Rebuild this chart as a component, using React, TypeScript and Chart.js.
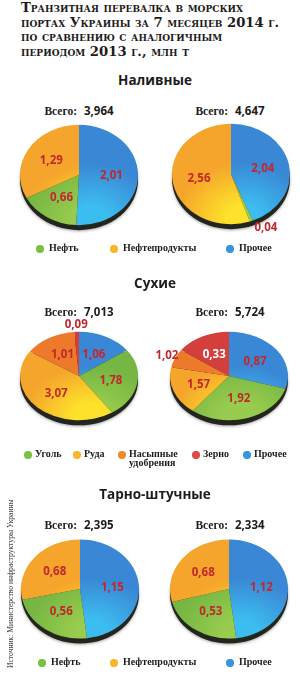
import React, { useEffect, useRef } from 'react';
import { Chart, registerables } from 'chart.js';

Chart.register(...registerables);

// ---------- data ----------
const titleLines = [
  'Транзитная перевалка в морских',
  'портах Украины за 7 месяцев 2014 г.',
  'по сравнению с аналогичным',
  'периодом 2013 г., млн т',
];
const sourceNote = 'Источник: Министерство инфраструктуры Украины';
const sectionTitles = ['Наливные', 'Сухие', 'Тарно-штучные'];
const totalWord = 'Всего:';

const liquidLegend = ['Нефть', 'Нефтепродукты', 'Прочее'];
const liquidSlices = ['Прочее', 'Нефть', 'Нефтепродукты']; // clockwise from 12 o'clock
const liquid2013 = [2.01, 0.66, 1.29];
const liquid2014 = [2.04, 0.04, 2.56];
const liquidTotals = ['3,964', '4,647'];

const dryLegend = ['Уголь', 'Руда', 'Насыпные удобрения', 'Зерно', 'Прочее'];
const drySlices = ['Прочее', 'Уголь', 'Руда', 'Насыпные удобрения', 'Зерно'];
const dry2013 = [1.06, 1.78, 3.07, 1.01, 0.09];
const dry2014 = [0.87, 1.92, 1.57, 1.02, 0.33];
// slice sizes as they are drawn in the reference's second "dry" pie (its printed values differ)
const dry2014Drawn = [1.7, 1.77, 1.01, 0.39, 0.86];
const dryTotals = ['7,013', '5,724'];

const packLegend = ['Нефть', 'Нефтепродукты', 'Прочее'];
const packSlices = ['Прочее', 'Нефть', 'Нефтепродукты'];
const pack2013 = [1.15, 0.56, 0.68];
const pack2014 = [1.12, 0.53, 0.68];
const packTotals = ['2,395', '2,334'];

// ---------- styles ----------
const GREEN: [string, string] = ['#76b643', '#98cc4e'];
const YELLOW: [string, string] = ['#f5a52b', '#fde12b'];
const BLUE: [string, string] = ['#3a88d5', '#3cbdf0'];
const ORANGE: [string, string] = ['#ec7a2a', '#f4953a'];
const RED: [string, string] = ['#d23f3c', '#e35a53'];
const PALETTE: Record<string, [string, string]> = {
  'Прочее': BLUE,
  'Нефть': GREEN,
  'Уголь': GREEN,
  'Нефтепродукты': YELLOW,
  'Руда': YELLOW,
  'Насыпные удобрения': ORANGE,
  'Зерно': RED,
};
const LEGEND_DOT: Record<string, string> = {
  'Прочее': '#3a94dc',
  'Нефть': '#7cbf45',
  'Уголь': '#7cbf45',
  'Нефтепродукты': '#fbb52b',
  'Руда': '#fbb52b',
  'Насыпные удобрения': '#f08a2e',
  'Зерно': '#dc4a45',
};
const INK = '#1d1b1b';
const LABEL_RED = '#c1272d';
const SERIF = '"Liberation Serif", "DejaVu Serif", serif';
const SANS = '"Open Sans", "Noto Sans", sans-serif';

const CW = 170;
const CH = 150;
const R = 59;

type PieProps = {
  cx: number;
  cy: number;
  k: number;
  slices: string[];
  sizes: number[];
  values: number[];
};

function Pie({ cx, cy, k, slices, sizes, values }: PieProps) {
  const ref = useRef<HTMLCanvasElement | null>(null);
  useEffect(() => {
    const canvas = ref.current;
    if (!canvas) return;
    const depth = 5;
    const tilt = {
      id: 'tilt3d',
      beforeDatasetsDraw(chart: any) {
        const arc = chart.getDatasetMeta(0).data[0] as any;
        const { x, y, outerRadius: r } = arc;
        const ctx = chart.ctx as CanvasRenderingContext2D;
        ctx.save();
        ctx.save();
        ctx.shadowColor = 'rgba(0,0,0,0.35)';
        ctx.shadowBlur = 3;
        ctx.shadowOffsetY = 1;
        ctx.fillStyle = '#23261c';
        ctx.beginPath();
        ctx.ellipse(x, y + depth, r, r * k, 0, 0, Math.PI * 2);
        ctx.fill();
        ctx.restore();
        ctx.translate(x, y);
        ctx.scale(1, k);
        ctx.translate(-x, -y);
      },
      afterDatasetsDraw(chart: any) {
        const ctx = chart.ctx as CanvasRenderingContext2D;
        ctx.restore();
        const meta = chart.getDatasetMeta(0);
        meta.data.forEach((el: any, i: number) => {
          const { x, y, startAngle, endAngle, outerRadius: r } = el;
          const share = (endAngle - startAngle) / (2 * Math.PI);
          const outside = share < 0.08;
          const f = outside ? 1.15 : 0.55;
          const mid = (startAngle + endAngle) / 2;
          const text = values[i].toFixed(2).replace('.', ',');
          ctx.save();
          ctx.font = `bold 11.5px ${SANS}`;
          const tw = ctx.measureText(text).width;
          const c = Math.cos(mid);
          const shift = outside && c > 0.2 ? tw / 2 : 0;
          const lx = x + c * r * f + shift;
          const ly = y + Math.sin(mid) * r * f * k;
          ctx.textAlign = 'center';
          ctx.textBaseline = 'middle';
          ctx.fillStyle = !outside && slices[i] === 'Зерно' ? '#ffffff' : LABEL_RED;
          ctx.fillText(text, lx, ly);
          ctx.restore();
        });
      },
    };
    const chart = new Chart(canvas, {
      type: 'pie',
      data: {
        labels: slices,
        datasets: [
          {
            data: sizes,
            borderWidth: 0,
            backgroundColor: (c: any) => {
              const pal = PALETTE[slices[c.dataIndex]] || BLUE;
              const area = c.chart.chartArea;
              if (!area) return pal[0];
              const x0 = (area.left + area.right) / 2;
              const y0 = (area.top + area.bottom) / 2;
              const r = Math.min(area.right - area.left, area.bottom - area.top) / 2;
              const g = c.chart.ctx.createRadialGradient(
                x0 + 0.2 * r, y0 + 0.9 * r, 0,
                x0 + 0.2 * r, y0 + 0.9 * r, 1.6 * r
              );
              g.addColorStop(0, pal[1]);
              g.addColorStop(0.18, pal[1]);
              g.addColorStop(0.7, pal[0]);
              g.addColorStop(1, pal[0]);
              return g;
            },
          },
        ],
      },
      options: {
        responsive: false,
        maintainAspectRatio: false,
        animation: false,
        events: [],
        layout: {
          padding: { left: CW / 2 - R, right: CW / 2 - R, top: CH / 2 - R, bottom: CH / 2 - R },
        },
        plugins: { legend: { display: false }, tooltip: { enabled: false } },
      } as any,
      plugins: [tilt],
    });
    return () => chart.destroy();
  }, []);
  return (
    <canvas
      ref={ref}
      width={CW}
      height={CH}
      style={{ position: 'absolute', left: cx - CW / 2, top: cy - CH / 2, width: CW, height: CH }}
    />
  );
}

function Centered({ x, y, children, style }: any) {
  return (
    <div
      style={{
        position: 'absolute',
        left: x,
        top: y,
        transform: 'translate(-50%, -50%)',
        whiteSpace: 'nowrap',
        lineHeight: 1,
        ...style,
      }}
    >
      {children}
    </div>
  );
}

function Total({ x, y, value }: { x: number; y: number; value: string }) {
  return (
    <Centered x={x} y={y}>
      <span style={{ fontFamily: SERIF, fontWeight: 700, fontSize: 11.5, color: INK }}>{totalWord}</span>
      <span style={{ fontFamily: SANS, fontWeight: 700, fontSize: 11.5, color: INK, marginLeft: 7 }}>{value}</span>
    </Centered>
  );
}

function Legend({ y, items, dotXs, gap }: { y: number; items: string[]; dotXs: number[]; gap: number }) {
  return (
    <>
      {items.map((name, i) => (
        <React.Fragment key={name}>
          <div
            style={{
              position: 'absolute',
              left: dotXs[i] - 3.7,
              top: y - 3.7,
              width: 7.4,
              height: 7.4,
              borderRadius: '50%',
              background: LEGEND_DOT[name],
            }}
          />
          <div
            style={{
              position: 'absolute',
              left: dotXs[i] + gap,
              top: y - 5,
              fontFamily: SERIF,
              fontWeight: 700,
              fontSize: 10,
              lineHeight: '8.5px',
              color: INK,
              whiteSpace: 'pre-line',
            }}
          >
            {name.replace(' ', '\n')}
          </div>
        </React.Fragment>
      ))}
    </>
  );
}

export default function App() {
  return (
    <div
      style={{
        position: 'absolute',
        left: 0,
        top: 0,
        width: 300,
        height: 678,
        overflow: 'hidden',
        background: '#ffffff',
      }}
    >
      {titleLines.map((line, i) => (
        <div
          key={i}
          style={{
            position: 'absolute',
            left: 21,
            top: 1 + i * 14.5,
            fontFamily: '"DejaVu Serif", serif',
            fontWeight: 700,
            fontVariant: 'small-caps',
            fontSize: 13.2,
            lineHeight: '14px',
            color: INK,
            whiteSpace: 'nowrap',
          }}
        >
          {line}
        </div>
      ))}

      <Centered x={155} y={80.5} style={{ fontFamily: SANS, fontWeight: 700, fontSize: 13.5, color: INK }}>
        {sectionTitles[0]}
      </Centered>
      <Total x={79} y={110} value={liquidTotals[0]} />
      <Total x={230} y={110} value={liquidTotals[1]} />
      <Pie cx={79} cy={175} k={0.85} slices={liquidSlices} sizes={liquid2013} values={liquid2013} />
      <Pie cx={231} cy={174} k={0.85} slices={liquidSlices} sizes={liquid2014} values={liquid2014} />
      <Legend y={249} items={liquidLegend} dotXs={[40, 114, 230]} gap={9} />

      <Centered x={155} y={284} style={{ fontFamily: SANS, fontWeight: 700, fontSize: 13.5, color: INK }}>
        {sectionTitles[1]}
      </Centered>
      <Total x={79} y={311} value={dryTotals[0]} />
      <Total x={230} y={311} value={dryTotals[1]} />
      <Pie cx={79} cy={376} k={0.75} slices={drySlices} sizes={dry2013} values={dry2013} />
      <Pie cx={229} cy={376} k={0.75} slices={drySlices} sizes={dry2014Drawn} values={dry2014} />
      <Legend y={455} items={dryLegend} dotXs={[28, 77, 122, 196, 247]} gap={7} />

      <Centered x={155} y={495} style={{ fontFamily: SANS, fontWeight: 700, fontSize: 13.5, color: INK }}>
        {sectionTitles[2]}
      </Centered>
      <Total x={79} y={523.5} value={packTotals[0]} />
      <Total x={230} y={523.5} value={packTotals[1]} />
      <Pie cx={80} cy={589} k={0.84} slices={packSlices} sizes={pack2013} values={pack2013} />
      <Pie cx={229} cy={589} k={0.84} slices={packSlices} sizes={pack2014} values={pack2014} />
      <Legend y={663} items={packLegend} dotXs={[42, 114, 230]} gap={9} />

      <div
        style={{
          position: 'absolute',
          left: 5.5,
          top: 668,
          transform: 'rotate(-90deg)',
          transformOrigin: '0 0',
          fontFamily: SERIF,
          fontSize: 7.6,
          lineHeight: '9px',
          color: '#333333',
          whiteSpace: 'nowrap',
        }}
      >
        {sourceNote}
      </div>
    </div>
  );
}
